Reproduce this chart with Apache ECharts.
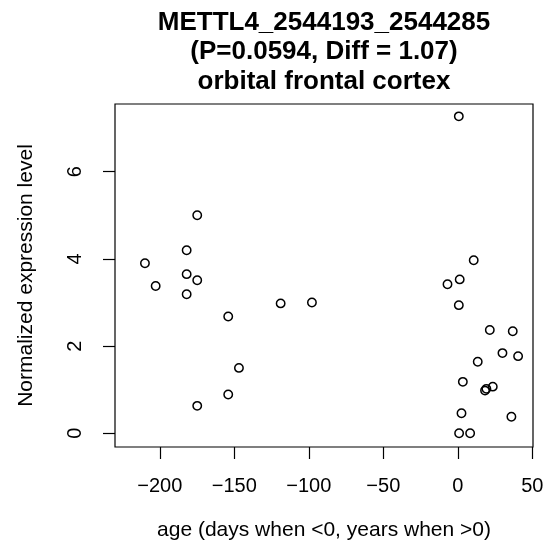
<!DOCTYPE html>
<html>
<head>
<meta charset="utf-8">
<script src="https://cdn.jsdelivr.net/npm/echarts@6/dist/echarts.min.js"></script>
<style>
html,body{margin:0;padding:0;background:#fff;}
#chart{width:547px;height:555px;}
</style>
</head>
<body>
<div id="chart"></div>
<script>
var titleLines = ["METTL4_2544193_2544285", "(P=0.0594, Diff = 1.07)", "orbital frontal cortex"];
var xAxisTitle = "age (days when <0, years when >0)";
var yAxisTitle = "Normalized expression level";
var xTicks = [-200, -150, -100, -50, 0, 50];
var yTicks = [0, 2, 4, 6];
var ages = [-174.9, -182.0, -210.0, -182.0, -174.9, -202.8, -182.0, -118.9, -97.9, -154.1, -146.9, -154.1, -174.9,
            0.7, 10.7, 1.3, -6.9, 0.7, 21.5, 36.9, 30.0, 40.5, 13.4, 3.4, 23.5, 18.3, 19.2, 2.5, 36.0, 0.9, 8.3];
var levels = [5.00, 4.20, 3.90, 3.65, 3.51, 3.38, 3.19, 2.98, 3.00, 2.68, 1.50, 0.89, 0.63,
              7.27, 3.97, 3.53, 3.42, 2.94, 2.37, 2.34, 1.84, 1.77, 1.64, 1.18, 1.07, 0.98, 1.02, 0.46, 0.38, 0.00, 0.00];

var points = ages.map(function (a, i) { return [a, levels[i]]; });
var font = "'Liberation Sans', Arial, Helvetica, sans-serif";

var chart = echarts.init(document.getElementById('chart'), null, {renderer: 'canvas'});
chart.setOption({
  animation: false,
  backgroundColor: '#ffffff',
  title: {
    text: titleLines.join('\n'),
    left: 324,
    top: 8,
    padding: 0,
    textAlign: 'center',
    textStyle: {fontFamily: font, fontSize: 26, fontWeight: 'bold', color: '#000', lineHeight: 29.5}
  },
  grid: {
    left: 115, top: 104, width: 418, height: 343,
    show: true, borderColor: '#000', borderWidth: 1.2, backgroundColor: 'transparent',
    containLabel: false, outerBoundsMode: 'none'
  },
  xAxis: {
    type: 'value',
    position: 'bottom',
    min: -230.1, max: 50.5,
    splitLine: {show: false},
    axisLine: {show: false, onZero: false},
    axisTick: {show: true, inside: false, length: 12, customValues: xTicks, lineStyle: {color: '#000', width: 1.2}},
    axisLabel: {show: true, customValues: xTicks, margin: 29, color: '#000', fontFamily: font, fontSize: 20,
      formatter: function (v) { return v < 0 ? '\u2212' + Math.abs(v) : String(v); }},
    name: xAxisTitle,
    nameLocation: 'middle',
    nameGap: 73,
    nameTextStyle: {fontFamily: font, fontSize: 21, color: '#000'}
  },
  yAxis: {
    type: 'value',
    position: 'left',
    min: -0.314, max: 7.553,
    splitLine: {show: false},
    axisLine: {show: false, onZero: false},
    axisTick: {show: true, inside: false, length: 12, customValues: yTicks, lineStyle: {color: '#000', width: 1.2}},
    axisLabel: {show: true, customValues: yTicks, rotate: 90, margin: 30, color: '#000', fontFamily: font, fontSize: 20},
    name: yAxisTitle,
    nameLocation: 'middle',
    nameGap: 78,
    nameRotate: 90,
    nameTextStyle: {fontFamily: font, fontSize: 21, color: '#000'}
  },
  series: [{
    type: 'scatter',
    data: points,
    symbol: 'circle',
    symbolSize: 8.4,
    itemStyle: {color: 'rgba(0,0,0,0)', borderColor: '#000', borderWidth: 1.5, opacity: 1},
    emphasis: {disabled: true},
    silent: true
  }]
});
</script>
</body>
</html>
